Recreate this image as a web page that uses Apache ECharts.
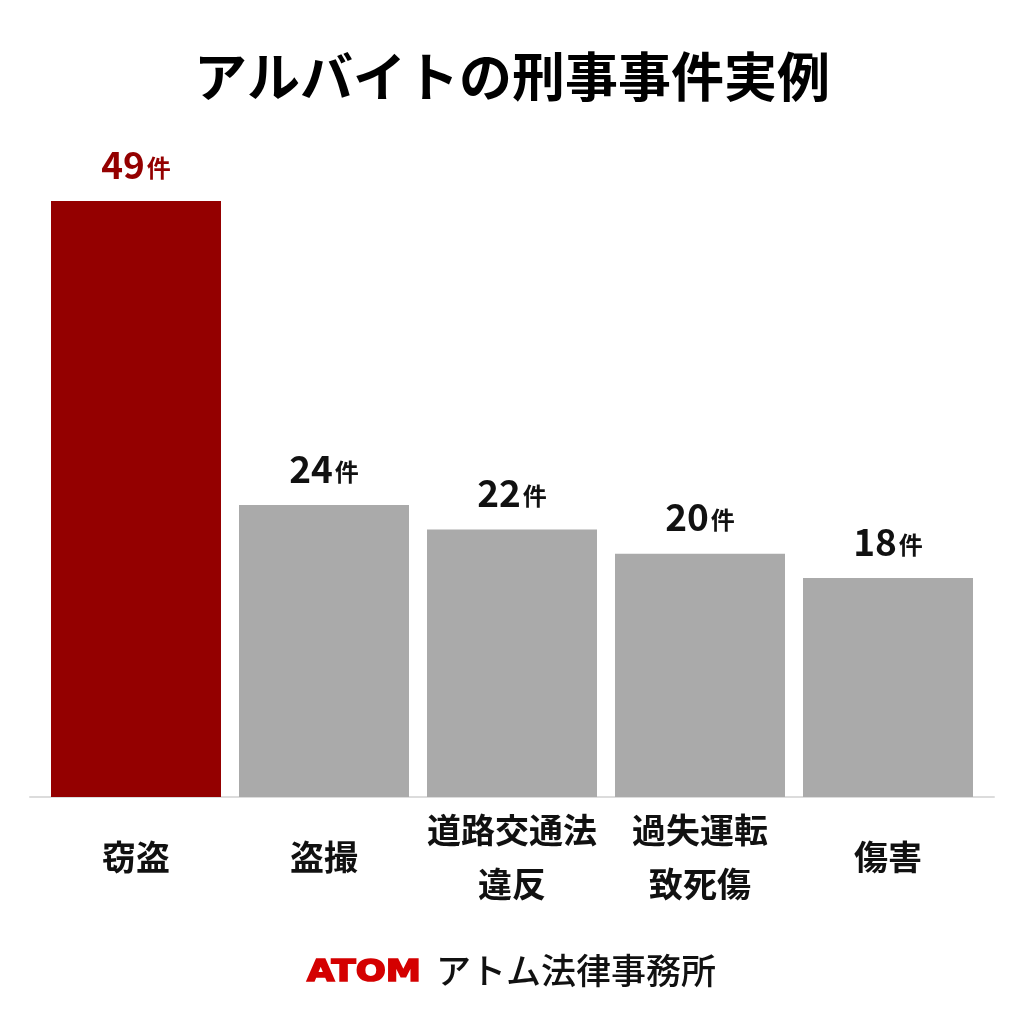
<!DOCTYPE html>
<html>
<head>
<meta charset="utf-8">
<script src="https://cdn.jsdelivr.net/npm/echarts@6/dist/echarts.min.js"></script>
<style>
  html, body { margin: 0; padding: 0; background: #fff; }
  #chart { width: 1024px; height: 1024px; }
</style>
</head>
<body>
<div id="chart"></div>
<script>
// データ
const categories = ["窃盗", "盗撮", "道路交通法\n違反", "過失運転\n致死傷", "傷害"];
const counts = [49, 24, 22, 20, 18];
const highlightIndex = 0; // 赤で強調する棒

const RED = "#940000";
const GRAY = "#aaaaaa";
const FONT = "Noto Sans CJK JP";

let myChart = echarts.init(document.getElementById("chart"));

let option = {
  backgroundColor: "#fff",
  animation: false,
  title: {
    text: "アルバイトの刑事事件実例",
    left: "center",
    top: 45,
    textStyle: {
      fontFamily: FONT,
      fontSize: 53,
      fontWeight: "bold",
      color: "#000",
    },
  },
  grid: [
    { left: 42, right: 42, top: 201, bottom: 227 },
    // 下の基準線だけ少し広く引く
    { left: 30, right: 30, top: 201, bottom: 227 },
  ],
  xAxis: [
    {
      type: "category",
      data: categories,
      gridIndex: 0,
      axisLine: { show: false },
      axisTick: { show: false },
      axisLabel: {
        margin: 60,
        verticalAlign: "middle",
        fontFamily: FONT,
        fontSize: 34,
        fontWeight: "bold",
        lineHeight: 54,
        color: "#111",
        interval: 0,
      },
    },
    {
      type: "category",
      data: categories,
      gridIndex: 1,
      axisLine: { show: true, lineStyle: { color: "#dcdcdc", width: 2 } },
      axisTick: { show: false },
      axisLabel: { show: false },
    },
  ],
  yAxis: [
    { type: "value", min: 0, max: 49, gridIndex: 0, show: false },
    { type: "value", min: 0, max: 49, gridIndex: 1, show: false },
  ],
  series: [
    {
      type: "bar",
      xAxisIndex: 0,
      yAxisIndex: 0,
      barWidth: 170,
      data: counts.map(function (v, i) {
        let isRed = i === highlightIndex;
        return {
          value: v,
          itemStyle: { color: isRed ? RED : GRAY },
          label: {
            rich: {
              n: { color: isRed ? RED : "#111" },
              u: { color: isRed ? RED : "#111" },
            },
          },
        };
      }),
      label: {
        show: true,
        position: "top",
        distance: 18,
        formatter: "{n|{c}}{u|件}",
        rich: {
          n: { fontFamily: FONT, fontSize: 37, fontWeight: "bold", color: "#111" },
          u: { fontFamily: FONT, fontSize: 24, fontWeight: "bold", color: "#111", padding: [6, 0, 0, 2] },
        },
      },
    },
  ],
  graphic: [
    {
      type: "text",
      left: 306,
      top: 957,
      scaleX: 1.18,
      style: {
        text: "ATOM",
        fontFamily: "DejaVu Sans",
        fontWeight: "bold",
        fontSize: 30,
        fill: "#d40000",
        stroke: "#d40000",
        lineWidth: 1.6,
      },
    },
    {
      type: "text",
      left: 436,
      top: 953,
      style: {
        text: "アトム法律事務所",
        fontFamily: FONT,
        fontWeight: 500,
        fontSize: 35,
        fill: "#111",
      },
    },
  ],
};

myChart.setOption(option);
</script>
</body>
</html>
